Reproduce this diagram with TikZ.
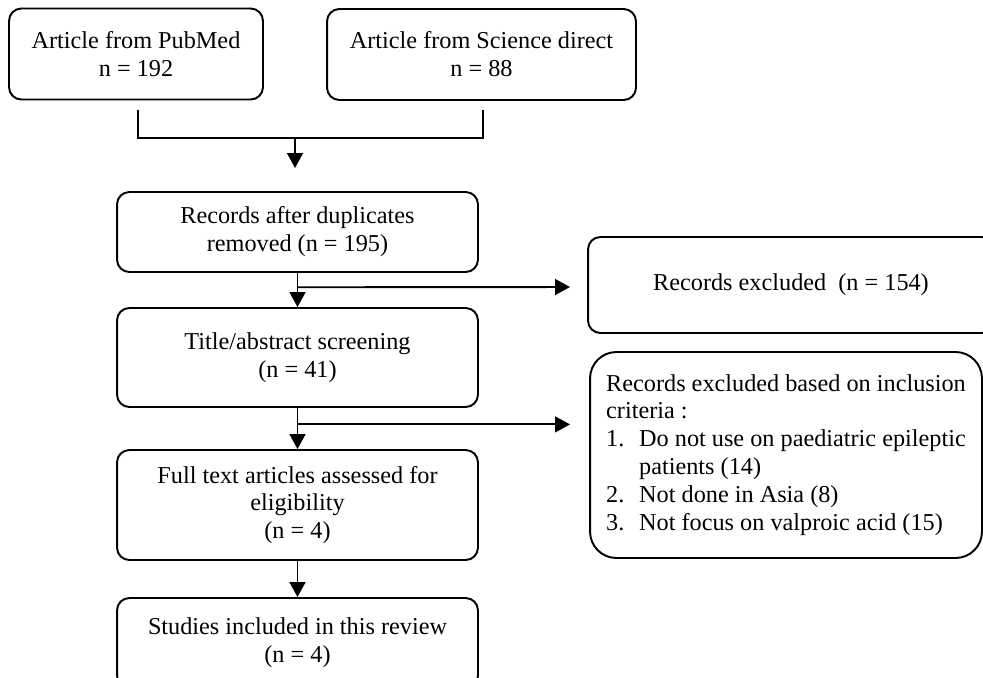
\documentclass[tikz,border=0pt]{standalone}
\usepackage{fontspec}
\setmainfont{Liberation Serif}
\usetikzlibrary{arrows.meta, positioning, calc}

\begin{document}
\begin{tikzpicture}[x=0.02cm, y=-0.02cm,
  stagebox/.style={draw, line width=1.1pt, rounded corners=7pt, align=center,
    font=\fontsize{13.8}{15.9}\selectfont, inner sep=2pt},
  link/.style={line width=1.1pt},
  flow/.style={line width=1.1pt, -{Triangle[width=9pt,length=8.5pt]}}]
  \clip (0,0) rectangle (983,677);

  % ===== 数据来源 =====
  \node[stagebox, minimum width=5.08cm, minimum height=1.82cm] (pubmed) at (136,54) {Article from PubMed\\n = 192};
  \node[stagebox, minimum width=6.18cm, minimum height=1.82cm] (scidir) at (481.5,54.5) {Article from Science direct\\n = 88};

  % ===== 筛选流程 =====
  \node[stagebox, minimum width=7.22cm, minimum height=1.6cm] (dup) at (297.5,232) {Records after duplicates\\removed (n = 195)};
  \node[stagebox, minimum width=7.22cm, minimum height=1.98cm] (screen) at (297.5,357.5) {Title/abstract screening\\(n = 41)};
  \node[stagebox, minimum width=7.22cm, minimum height=2.2cm] (full) at (297.5,505) {Full text articles assessed for\\eligibility\\(n = 4)};
  \node[stagebox, minimum width=7.22cm, minimum height=1.8cm] (studies) at (297.5,643) {Studies included in this review\\(n = 4)};

  % ===== 排除 =====
  \node[stagebox, minimum width=8.12cm, minimum height=1.92cm] (excl) at (791,285) {Records excluded\enspace(n = 154)};
  \node[stagebox, rounded corners=15pt, align=left, minimum width=7.84cm,
    minimum height=4.12cm] (crit) at (786,455) {Records excluded based on inclusion\\criteria :\\
    \makebox[0.66cm][l]{1.}Do not use on paediatric epileptic\\\hspace*{0.66cm}patients (14)\\
    \makebox[0.66cm][l]{2.}Not done in Asia (8)\\
    \makebox[0.66cm][l]{3.}Not focus on valproic acid (15)};

  % 合并连线
  \coordinate (pmfoot) at (138,110);
  \coordinate (sdfoot) at (483,110);
  \coordinate (merge) at (295,138);
  \coordinate (mergetip) at (295,168);
  \draw[link] (pmfoot) |- (merge) -| (sdfoot);
  \draw[flow] (merge) -- (mergetip);

  % 主线箭头
  \draw[flow] (dup.south) -- (screen.north);
  \draw[flow] (screen.south) -- (full.north);
  \draw[flow] (full.south) -- (studies.north);

  % 分支箭头
  \coordinate (split1) at ($(dup.south)!0.42!(screen.north)$);
  \coordinate (excltip) at (570,287);
  \draw[flow] (split1) -- (excltip);
  \coordinate (split2) at ($(screen.south)!0.4!(full.north)$);
  \draw[flow] (split2) -- (split2 -| excltip);
\end{tikzpicture}
\end{document}
